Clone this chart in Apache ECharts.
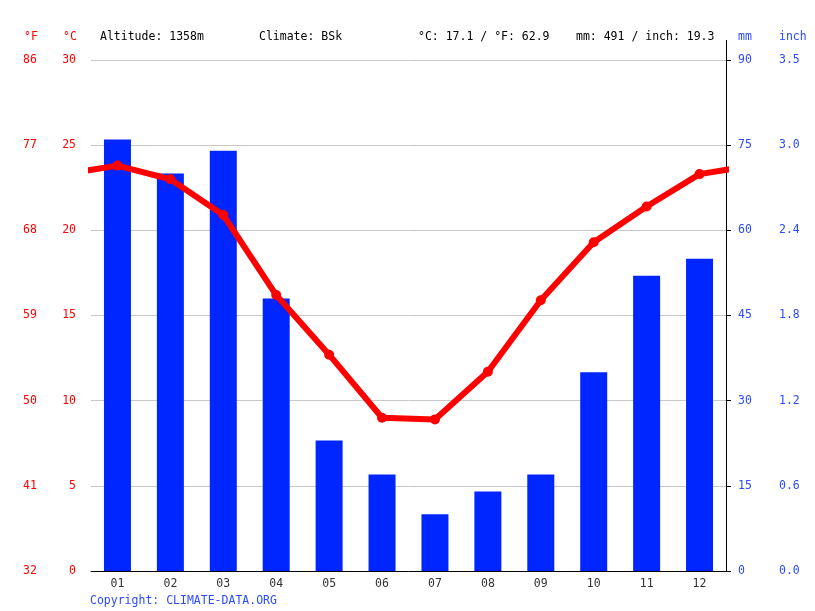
<!DOCTYPE html>
<html>
<head>
<meta charset="utf-8">
<script src="https://cdn.jsdelivr.net/npm/echarts@6/dist/echarts.min.js"></script>
<style>
  html, body { margin: 0; padding: 0; background: #fff; }
  #chart { width: 815px; height: 611px; }
</style>
</head>
<body>
<div id="chart"></div>
<script>
// Data
var months = ['01', '02', '03', '04', '05', '06', '07', '08', '09', '10', '11', '12'];
var precipMm = [76, 70, 74, 48, 23, 17, 10, 14, 17, 35, 52, 55];
var tempC = [23.8, 23.0, 20.9, 16.2, 12.7, 9.0, 8.9, 11.7, 15.9, 19.3, 21.4, 23.3];

var FONT = 'DejaVu Sans Mono';
var RED = '#ff0000';
var BLUE = '#2b4bff';

// line wraps Dec -> Jan at both edges, clipped by the grid
function buildTempLine(vals) {
    var res = [[0, vals[vals.length - 1]]];
    vals.forEach(function(v, i) { res.push([i + 1, v]); });
    res.push([vals.length + 1, vals[0]]);
    return res;
}

var chart = echarts.init(document.getElementById('chart'));

var headText = function(x, text, color) {
    return {
        type: 'text', left: x, top: 31,
        style: { text: text, fill: color, font: '11.5px "' + FONT + '"' }
    };
};

var option = {
    animation: false,
    grid: { left: 91, right: 89, top: 60, bottom: 40 },
    graphic: [
        headText(24, '°F', RED),
        headText(63, '°C', RED),
        headText(100, 'Altitude: 1358m', '#000'),
        headText(259, 'Climate: BSk', '#000'),
        headText(418, '°C: 17.1 / °F: 62.9', '#000'),
        headText(576, 'mm: 491 / inch: 19.3', '#000'),
        headText(738, 'mm', BLUE),
        headText(779, 'inch', BLUE),
        {
            type: 'text', left: 90, top: 595,
            style: { text: 'Copyright: CLIMATE-DATA.ORG', fill: BLUE, font: '11.5px "' + FONT + '"' }
        },
        {
            type: 'line', z: 10,
            shape: { x1: 726.5, y1: 40, x2: 726.5, y2: 60 },
            style: { stroke: '#000', lineWidth: 1 }
        }
    ],
    xAxis: [
        {
            type: 'category',
            data: months,
            boundaryGap: true,
            axisLine: { lineStyle: { color: '#000', width: 1 } },
            axisTick: { length: 5, lineStyle: { color: '#000' } },
            axisLabel: { color: '#333', fontFamily: FONT, fontSize: 11.5, margin: 7 }
        },
        {
            type: 'value',
            min: 0.5,
            max: 12.5,
            show: false
        }
    ],
    yAxis: [
        {
            // °C
            type: 'value', position: 'left',
            min: 0, max: 30, interval: 5,
            axisLine: { show: false },
            axisTick: { show: false },
            splitLine: { lineStyle: { color: '#c8c8c8', width: 1 } },
            axisLabel: { color: RED, fontFamily: FONT, fontSize: 11.5, margin: 15, padding: [3, 0, 0, 0] }
        },
        {
            // °F, same scale as °C
            type: 'value', position: 'left', offset: 61,
            min: 0, max: 30, interval: 5,
            axisLine: { show: false },
            axisTick: { show: false },
            splitLine: { show: false },
            axisLabel: {
                color: RED, fontFamily: FONT, fontSize: 11.5, margin: 0, align: 'center',
                padding: [3, 0, 0, 0],
                formatter: function(v) { return Math.round(v * 9 / 5 + 32); }
            }
        },
        {
            // mm
            type: 'value', position: 'right',
            min: 0, max: 90, interval: 15,
            axisLine: { show: true, lineStyle: { color: '#000', width: 1 } },
            axisTick: { show: true, length: 5, lineStyle: { color: '#000' } },
            splitLine: { show: false },
            axisLabel: { color: BLUE, fontFamily: FONT, fontSize: 11.5, margin: 12, align: 'left', padding: [3, 0, 0, 0] }
        },
        {
            // inch, same scale as mm
            type: 'value', position: 'right', offset: 53,
            min: 0, max: 90, interval: 15,
            axisLine: { show: false },
            axisTick: { show: false },
            splitLine: { show: false },
            axisLabel: {
                color: BLUE, fontFamily: FONT, fontSize: 11.5, margin: 0, align: 'left',
                padding: [3, 0, 0, 0],
                formatter: function(v) { return (v / 25.4).toFixed(1); }
            }
        }
    ],
    series: [
        {
            name: 'mm',
            type: 'bar',
            xAxisIndex: 0,
            yAxisIndex: 2,
            data: precipMm,
            barWidth: 27,
            itemStyle: { color: '#0026ff' },
            z: 2
        },
        {
            name: '°C',
            type: 'line',
            xAxisIndex: 1,
            yAxisIndex: 0,
            data: buildTempLine(tempC),
            clip: true,
            symbol: 'circle',
            symbolSize: function(v) {
                return (v[0] < 1 || v[0] > 12) ? 0 : 10;
            },
            lineStyle: { color: RED, width: 6 },
            itemStyle: { color: RED },
            z: 3
        }
    ]
};

chart.setOption(option);
</script>
</body>
</html>
